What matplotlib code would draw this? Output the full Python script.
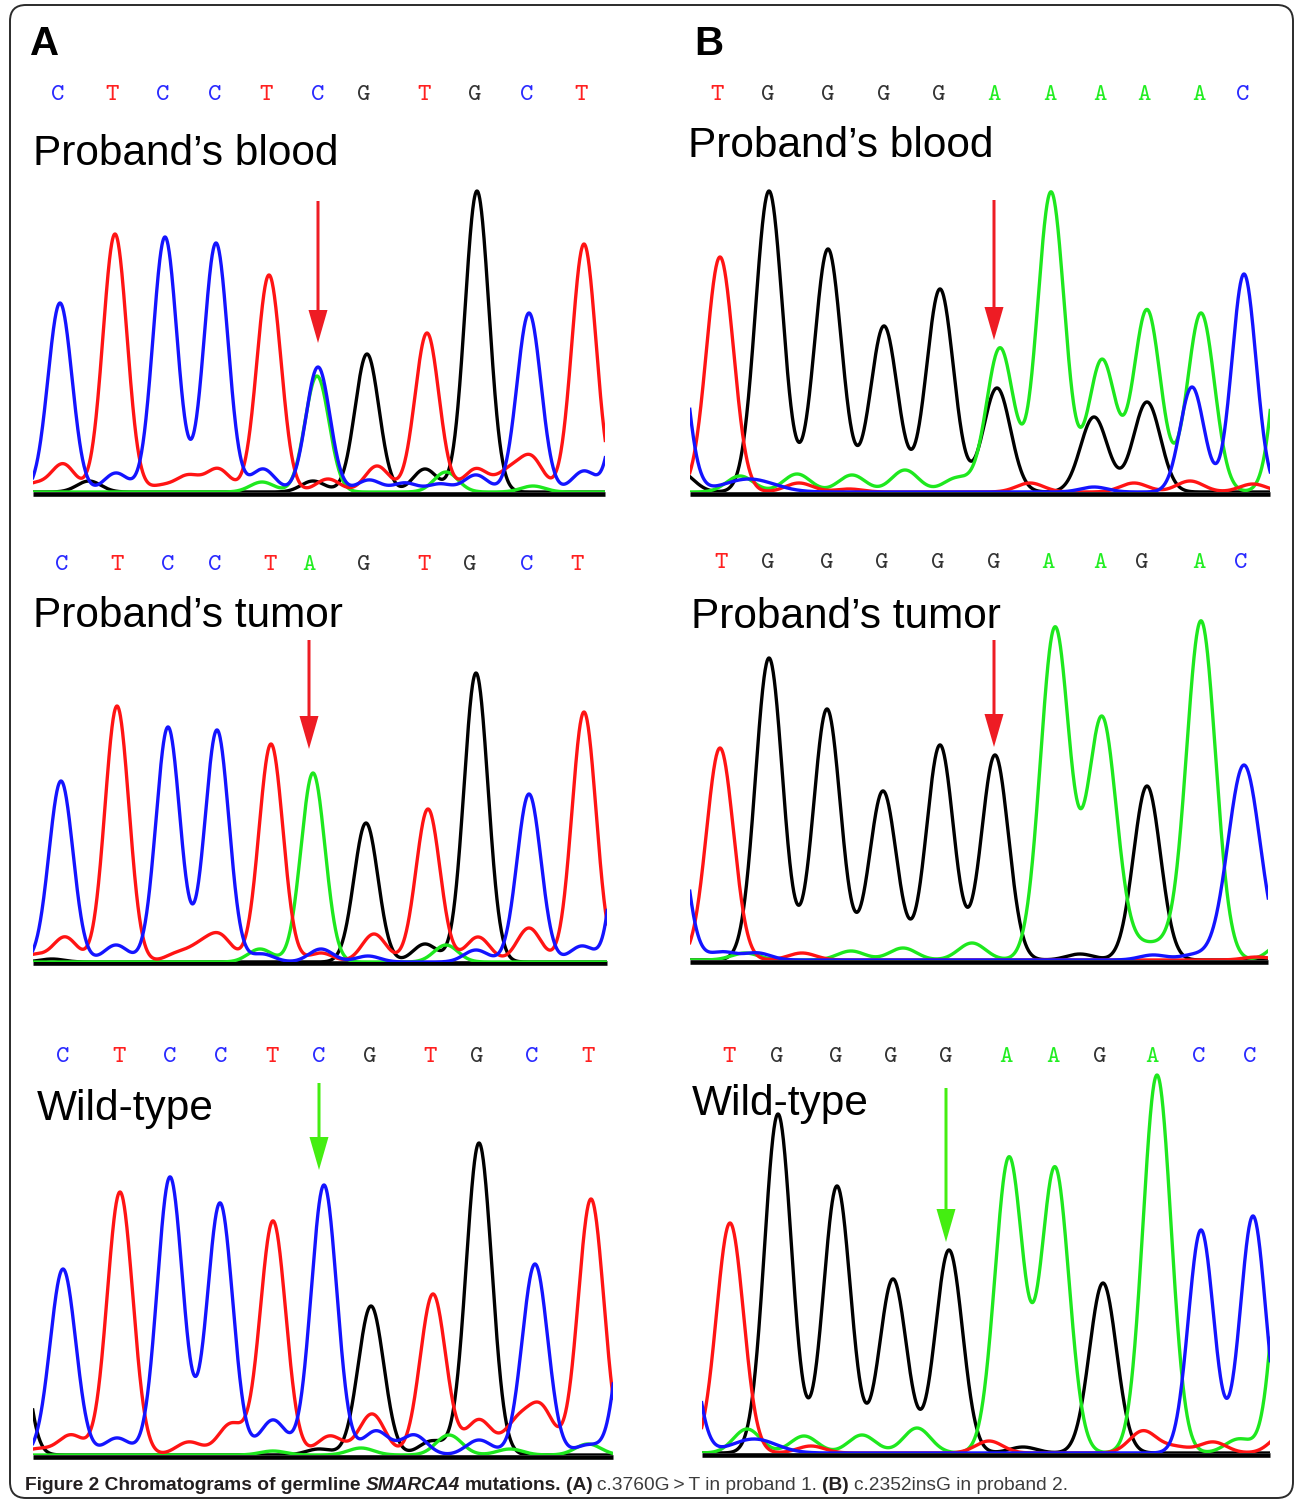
import numpy as np
import matplotlib
matplotlib.use("Agg")
import matplotlib.pyplot as plt
from matplotlib import font_manager
from matplotlib.patches import FancyBboxPatch, FancyArrow

W, H = 1295, 1501

# trace colours, ABI style
TRACE_COLORS = {"G": "#000000", "A": "#1ee81e", "T": "#ff1414", "C": "#1414ff"}
LETTER_COLORS = {"G": "#333333", "A": "#22ee22", "T": "#ff2020", "C": "#2a2aff"}

################ data: base calls and peaks (position, height[, width]) ################
# (A) c.3760G>T, proband's blood
A_BLOOD_BASES = list("CTCCTCGTGCT")
A_BLOOD_BASE_X = [58, 112, 163, 215, 266, 318, 364, 424, 475, 527, 581]
A_BLOOD_C = [(60, 189), (165, 255), (216, 249), (318, 125), (529, 179), (630, 250),
             (116, 19), (263, 23), (369, 12), (405, 9), (440, 8), (476, 17), (584, 21)]
A_BLOOD_T = [(115, 258), (269, 217), (427, 159), (584, 248), (33, 8), (63, 28), (161, 6),
             (188, 16), (218, 23), (328, 13), (377, 26), (476, 23), (508, 19), (531, 34)]
A_BLOOD_A = [(317, 116), (262, 10), (446, 20), (533, 6)]
A_BLOOD_G = [(367, 138), (477, 301), (89, 11), (313, 11), (425, 23)]

# (A) proband's tumor
A_TUMOR_BASES = list("CTCCTAGTGCT")
A_TUMOR_BASE_X = [62, 117, 168, 215, 270, 309, 364, 424, 470, 527, 577]
A_TUMOR_C = [(61, 181), (168, 235), (217, 232), (529, 168), (630, 300), (116, 17),
             (262, 8), (321, 13), (368, 6), (476, 12), (582, 16)]
A_TUMOR_T = [(117, 256), (271, 218), (428, 153), (584, 250), (33, 7), (65, 25), (177, 8),
             (200, 14), (220, 25), (321, 9), (374, 28), (478, 25), (529, 34)]
A_TUMOR_A = [(313, 189), (260, 13), (446, 17)]
A_TUMOR_G = [(366, 139), (476, 289), (425, 18), (52, 3)]

# (A) wild-type
A_WILD_BASES = list("CTCCTCGTGCT")
A_WILD_BASE_X = [63, 119, 170, 221, 272, 319, 370, 430, 477, 532, 588]
A_WILD_C = [(63, 186), (170, 278), (220, 252), (324, 270), (535, 191), (633, 230), (117, 17),
            (273, 35), (376, 24), (414, 20), (479, 15), (588, 10)]
A_WILD_T = [(120, 263), (273, 234), (433, 161), (591, 256), (37, 6), (71, 20), (189, 13),
            (231, 31), (330, 19), (372, 41), (479, 35), (517, 31), (541, 46)]
A_WILD_A = [(273, 4), (361, 7), (449, 20), (510, 6), (588, 11)]
A_WILD_G = [(10, 220), (371, 149), (479, 312), (432, 14), (319, 6)]

# (B) c.2352insG, proband's blood
B_BLOOD_BASES = list("TGGGGAAAAAC")
B_BLOOD_BASE_X = [717, 768, 828, 884, 939, 994, 1050, 1100, 1144, 1199, 1243]
B_BLOOD_T = [(720, 235), (799, 9), (849, 3), (1030, 9), (1134, 9), (1190, 11), (1253, 8)]
B_BLOOD_G = [(680, 20), (769, 301), (828, 243), (884, 166), (940, 203), (997, 104),
             (1094, 75), (1147, 90)]
B_BLOOD_A = [(740, 16), (797, 18), (852, 17), (905, 22), (957, 14), (1000, 144), (1051, 300),
             (1102, 132), (1147, 182), (1201, 179), (1292, 300)]
B_BLOOD_C = [(670, 240), (749, 13, 25), (1094, 5), (1192, 105, 12), (1244, 218, 12)]

# (B) proband's tumor
B_TUMOR_BASES = list("TGGGGGAAGAC")
B_TUMOR_BASE_X = [721, 768, 827, 882, 938, 994, 1048, 1100, 1142, 1199, 1241]
B_TUMOR_T = [(720, 212), (802, 7), (1257, 3)]
B_TUMOR_G = [(769, 302), (827, 251), (883, 169), (940, 215), (995, 205), (1080, 6), (1147, 174)]
B_TUMOR_A = [(745, 7), (851, 9), (903, 12), (972, 17), (1055, 332, 14.5), (1102, 242, 14.5),
             (1140, 12), (1163, 12), (1201, 339, 14.5), (1285, 20)]
B_TUMOR_C = [(670, 200), (722, 8), (757, 7), (1153, 5), (1194, 5), (1244, 195, 16)]

# (B) wild-type
B_WILD_BASES = list("TGGGGAAGACC")
B_WILD_BASE_X = [729, 777, 836, 891, 946, 1006, 1053, 1100, 1152, 1199, 1250]
B_WILD_T = [(730, 230), (811, 7), (989, 12), (1143, 22), (1175, 6), (1213, 11), (1285, 20)]
B_WILD_G = [(778, 339), (837, 267), (893, 174), (949, 203), (1023, 6), (1103, 170)]
B_WILD_A = [(747, 24), (804, 17), (862, 18), (917, 25), (1009, 295, 14), (1055, 285, 14),
            (1157, 378, 14), (1239, 14), (1290, 330)]
B_WILD_C = [(680, 180), (754, 14, 22), (1201, 223, 12.6), (1253, 237, 12.6)]

TITLES = ["Proband\u2019s blood", "Proband\u2019s tumor", "Wild-type"]

########################## layout (pixels of the figure) ##########################
panels = [
    dict(bases=A_BLOOD_BASES, bx=A_BLOOD_BASE_X, peaks=dict(G=A_BLOOD_G, A=A_BLOOD_A, T=A_BLOOD_T, C=A_BLOOD_C),
         x0=33, x1=605, yb=492, tx=33, ty=165, ly=95, title=TITLES[0], arrow=(5, 291, 149, "#ee1c24"), sig=12),
    dict(bases=A_TUMOR_BASES, bx=A_TUMOR_BASE_X, peaks=dict(G=A_TUMOR_G, A=A_TUMOR_A, T=A_TUMOR_T, C=A_TUMOR_C),
         x0=33, x1=607, yb=962, tx=33, ty=627, ly=565, title=TITLES[1], arrow=(5, 322, 213, "#ee1c24"), sig=12),
    dict(bases=A_WILD_BASES, bx=A_WILD_BASE_X, peaks=dict(G=A_WILD_G, A=A_WILD_A, T=A_WILD_T, C=A_WILD_C),
         x0=33, x1=613, yb=1455, tx=37, ty=1120, ly=1058, title=TITLES[2], arrow=(5, 372, 285, "#44ee11"), sig=12.8),
    dict(bases=B_BLOOD_BASES, bx=B_BLOOD_BASE_X, peaks=dict(G=B_BLOOD_G, A=B_BLOOD_A, T=B_BLOOD_T, C=B_BLOOD_C),
         x0=690, x1=1270, yb=492, tx=688, ty=157, ly=95, title=TITLES[0], arrow=(5, 292, 152, "#ee1c24"), sig=13.5),
    dict(bases=B_TUMOR_BASES, bx=B_TUMOR_BASE_X, peaks=dict(G=B_TUMOR_G, A=B_TUMOR_A, T=B_TUMOR_T, C=B_TUMOR_C),
         x0=690, x1=1268, yb=960, tx=691, ty=628, ly=563, title=TITLES[1], arrow=(5, 320, 213, "#ee1c24"), sig=13.5),
    dict(bases=B_WILD_BASES, bx=B_WILD_BASE_X, peaks=dict(G=B_WILD_G, A=B_WILD_A, T=B_WILD_T, C=B_WILD_C),
         x0=702, x1=1270, yb=1453, tx=692, ty=1115, ly=1057, title=TITLES[2], arrow=(4, 365, 211, "#44ee11"), sig=13.5),
]
TOP = 400


def trace(xs, peaks, sig):
    y = np.zeros_like(xs)
    for p in peaks:
        s = p[2] if len(p) > 2 else sig
        y += p[1] * np.exp(-(xs - p[0]) ** 2 / (2 * s * s))
    return y


def fx(x):
    return x / W


def fy(y):
    return 1 - y / H


fig = plt.figure(figsize=(W / 100, H / 100), dpi=100)

# background axes in pixel coordinates, for the frame
bg = fig.add_axes([0, 0, 1, 1], zorder=-1)
bg.set_xlim(0, W)
bg.set_ylim(H, 0)
bg.axis("off")
bg.add_patch(FancyBboxPatch((10, 5), 1283, 1493, boxstyle="round,pad=0,rounding_size=16",
                            fc="none", ec="#2b2b2b", lw=1.4))

for p in panels:
    x0, x1, yb = p["x0"], p["x1"], p["yb"]
    ax = fig.add_axes([fx(x0), fy(yb), (x1 - x0) / W, TOP / H])
    ax.set_xlim(x0, x1)
    ax.set_ylim(0, TOP)
    ax.axis("off")
    xs = np.linspace(x0 - 5, x1 + 5, 1600)
    for z, base in enumerate(["G", "A", "T", "C"]):
        ax.plot(xs, trace(xs, p["peaks"][base], p["sig"]), color=TRACE_COLORS[base],
                lw=2.4, zorder=2 + z, solid_joinstyle="round")
    ax.plot([x0, x1], [-1.5, -1.5], color="black", lw=3.3, solid_capstyle="butt",
            clip_on=False, zorder=1)
    # arrow pointing at the mutated position
    idx, top, tip, col = p["arrow"]
    ax.add_patch(FancyArrow(p["bx"][idx], top, 0, tip - top, width=3, head_width=19,
                            head_length=33, length_includes_head=True, color=col,
                            lw=0, clip_on=False, zorder=10))
    # base calls
    for b, x in zip(p["bases"], p["bx"]):
        fig.text(fx(x), fy(p["ly"]), b, color=LETTER_COLORS[b], fontsize=18.5,
                 family="cmtt10", ha="center", va="center")
    fig.text(fx(p["tx"]), fy(p["ty"]), p["title"], fontsize=30.5, family="Liberation Sans",
             ha="left", va="baseline")

fig.text(fx(30), fy(55), "A", fontsize=29, fontweight="bold", family="Liberation Sans",
         ha="left", va="baseline")
fig.text(fx(694), fy(55), "B", fontsize=29, fontweight="bold", family="Liberation Sans",
         ha="left", va="baseline")

# caption, assembled piece by piece
def has_font(name):
    try:
        font_manager.findfont(name, fallback_to_default=False)
        return True
    except Exception:
        return False

cap_family = "Liberation Sans Narrow" if has_font("Liberation Sans Narrow") else "Liberation Sans"
caption = [("Figure 2 Chromatograms of germline", "bold", "normal", "#231f20"),
           ("SMARCA4", "bold", "italic", "#231f20"),
           ("mutations.", "bold", "normal", "#231f20"),
           ("(A)", "bold", "normal", "#231f20"),
           ("c.3760G\u2009>\u2009T in proband 1.", "normal", "normal", "#3c3c3c"),
           ("(B)", "bold", "normal", "#231f20"),
           ("c.2352insG in proband 2.", "normal", "normal", "#3c3c3c")]
cap_fs = 13.8
renderer = fig.canvas.get_renderer()
x = 25
for txt, wt, st, col in caption:
    t = fig.text(fx(x), fy(1490), txt, fontsize=cap_fs, fontweight=wt, fontstyle=st,
                 family=[cap_family, "DejaVu Sans"], color=col, ha="left", va="baseline")
    x += t.get_window_extent(renderer).width + cap_fs * 100 / 72 * 0.25

fig.savefig("out.png", dpi=100)
